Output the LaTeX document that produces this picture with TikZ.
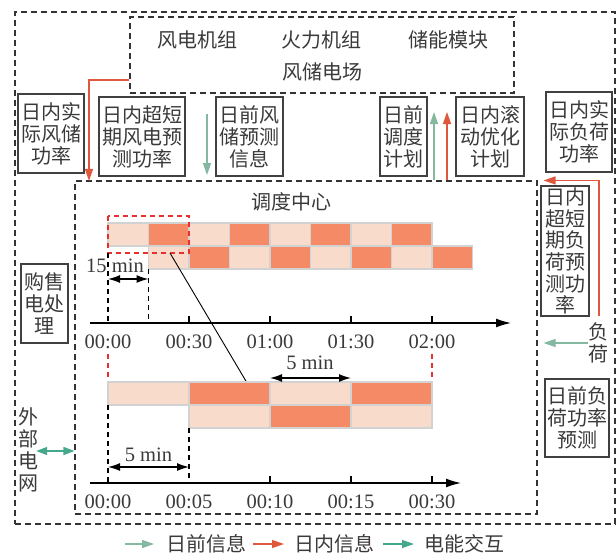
\documentclass[tikz,border=0pt]{standalone}
\usepackage{fontspec}
\setmainfont{Liberation Serif}
\newfontfamily\cjk{Noto Sans CJK SC}
\usetikzlibrary{arrows.meta}
\definecolor{txt}{HTML}{3A3A3A}
\definecolor{boxc}{HTML}{404040}
\definecolor{dashc}{HTML}{333333}
\definecolor{lightc}{HTML}{F8DBCB}
\definecolor{darkc}{HTML}{F58B66}
\definecolor{gridc}{HTML}{D2D2D2}
\definecolor{redc}{HTML}{E0583C}
\definecolor{grnc}{HTML}{85B8A0}
\definecolor{tealc}{HTML}{45A88C}
\definecolor{rdash}{HTML}{E8302E}
\tikzset{
  cn/.style={font=\cjk\fontsize{20}{22}\selectfont, text=txt, inner sep=0pt, align=center},
  num/.style={font=\fontsize{20.5}{22}\selectfont, text=txt, inner sep=0pt},
  box/.style={cn, draw=boxc, line width=1.3pt},
  dbox/.style={draw=dashc, dash pattern=on 6pt off 4pt, line width=1.1pt, inner sep=0pt},
  redarr/.style={draw=redc, line width=1.3pt, -{Triangle[length=12pt,width=8pt]}},
  grnarr/.style={draw=grnc, line width=1.3pt, -{Triangle[length=12pt,width=8pt]}},
  tealarr/.style={draw=tealc, line width=1.3pt, {Triangle[length=11pt,width=8pt]}-{Triangle[length=11pt,width=8pt]}},
  tealone/.style={draw=tealc, line width=1.3pt, -{Triangle[length=12pt,width=8pt]}},
  cell/.style={draw=gridc, line width=1.3pt},
  axis/.style={draw=black, line width=1.4pt, -{Latex[length=15pt,width=9pt]}},
  dim/.style={draw=black, line width=1.3pt, {Latex[length=12pt,width=8pt]}-{Latex[length=12pt,width=8pt]}},
  vdash/.style={draw=black, line width=1.1pt, dash pattern=on 5pt off 4pt},
  rdashed/.style={draw=rdash, line width=1.2pt, dash pattern=on 5pt off 4pt},
  tick/.style={draw=black, line width=1.2pt},
}
\begin{document}
\begin{tikzpicture}[x=1pt,y=-1pt]
\useasboundingbox (0,0) rectangle (616,554);
\fill[white] (0,0) rectangle (616,554);

% dashed frames
\node[dbox, minimum width=600, minimum height=512] (outer) at (315,268) {};
\node[dbox, minimum width=384, minimum height=76] (farm) at (322,55) {};
\node[dbox, minimum width=462, minimum height=333] (dc) at (306,347.5) {};

% wind farm texts
\node[cn] (wt) at (197,40) {风电机组};
\node[cn] (th) at (321,40) {火力机组};
\node[cn] (st) at (448,40) {储能模块};
\node[cn] (wf) at (322,72) {风储电场};
\node[cn] (dct) at (291,202) {调度中心};

% boxes
\node[box, minimum width=66, minimum height=79] (b1) at (51,133.5) {日内实\\际风储\\功率};
\node[box, minimum width=86, minimum height=79] (b2) at (142,136.5) {日内超短\\期风电预\\测功率};
\node[box, minimum width=67, minimum height=79] (b3) at (249.5,136.5) {日前风\\储预测\\信息};
\node[box, minimum width=47, minimum height=79] (b4) at (403.5,136.5) {日前\\调度\\计划};
\node[box, minimum width=68, minimum height=79] (b5) at (490,136.5) {日内滚\\动优化\\计划};
\node[box, minimum width=66, minimum height=80] (b6) at (579,132) {日内实\\际负荷\\功率};
\node[box, minimum width=48, minimum height=130, font=\cjk\fontsize{20}{21.6}\selectfont] (b7) at (565,251) {日内\\超短\\期负\\荷预\\测功\\率};
\node[box, minimum width=64, minimum height=78] (b8) at (577,418) {日前负\\荷功率\\预测};
\node[box, minimum width=47, minimum height=79] (b9) at (44.5,303.5) {购售\\电处\\理};
\node[cn, font=\cjk\fontsize{20}{22.5}\selectfont] (fh) at (598,343) {负\\荷};
\node[cn, font=\cjk\fontsize{20}{21.8}\selectfont] (wb) at (29,450) {外\\部\\电\\网};

% information arrows
\draw[redarr] (farm.west |- 0,80) -| ([yshift=-0.5pt]dc.north -| 89,0);
\coordinate (g1s) at (207,114);
\draw[grnarr] (g1s) -- (207,175);
\coordinate (g2e) at (434,112);
\coordinate (r2e) at (447,112);
\draw[grnarr] (dc.north -| 434,0) -- (g2e);
\draw[redarr] (dc.north -| 447,0) -- (r2e);
\coordinate (r3s) at (599,316);
\draw[redarr] (r3s) |- ([xshift=6pt]dc.north east);
\draw[grnarr] (fh.west) -- ([xshift=6pt]dc.east |- fh.west);
\draw[tealarr] ([xshift=-3pt]wb.east |- 0,451) -- (dc.west |- 0,451);

% chart 1 cells
\foreach \xa/\c in {108/lightc,148.5/darkc,189/lightc,229.5/darkc,270/lightc,310.5/darkc,351/lightc,391.5/darkc}
  \path[cell, fill=\c] (\xa,223) rectangle ++(40.5,23);
\foreach \xa/\c in {148.5/lightc,189/darkc,229.5/lightc,270/darkc,310.5/lightc,351/darkc,391.5/lightc,432/darkc}
  \path[cell, fill=\c] (\xa,246) rectangle ++(40.5,23);
\draw[rdashed] (108,216) rectangle (189,253);

% chart 1 axis
\coordinate (a1s) at (90,323);
\coordinate (a1e) at (511,323);
\draw[axis] (a1s) -- (a1e);
\foreach \x in {189,270,351,432} \draw[tick] (\x,316) -- (\x,323);
\draw[vdash] (108,253) -- (108,323);
\draw[vdash] (148.5,269) -- (148.5,323);
\draw[dim] (108,279) -- (148.5,279);
\node[num] (m15) at (115,266) {15 min};
\foreach \x/\t in {108/00:00,189/00:30,270/01:00,351/01:30,432/02:00}
  \node[num] at (\x,342) {\t};

% link line
\draw[black, line width=0.9pt] (170,253) -- (246.5,382);

% chart 2
\draw[rdashed] (108,354) -- (108,382);
\draw[rdashed] (432,354) -- (432,382);
\foreach \xa/\c in {108/lightc,189/darkc,270/lightc,351/darkc}
  \path[cell, fill=\c] (\xa,382) rectangle ++(81,23);
\foreach \xa/\c in {189/lightc,270/darkc,351/lightc}
  \path[cell, fill=\c] (\xa,405) rectangle ++(81,23);
\draw[dim] (270,378) -- (351,378);
\node[num] (m5a) at (310,363) {5 min};

\coordinate (a2s) at (90,483);
\coordinate (a2e) at (461,483);
\draw[axis] (a2s) -- (a2e);
\foreach \x in {270,351,432} \draw[tick] (\x,476) -- (\x,483);
\draw[vdash] (108,405) -- (108,483);
\draw[vdash] (189,428) -- (189,483);
\draw[dim] (108,467) -- (189,467);
\node[num] (m5b) at (148.5,455) {5 min};
\foreach \x/\t in {108/00:00,189/00:05,270/00:10,351/00:15,432/00:30}
  \node[num] at (\x,502) {\t};

% legend
\coordinate (l1s) at (125,544); \coordinate (l1e) at (154,544);
\coordinate (l2s) at (253,544); \coordinate (l2e) at (284,544);
\coordinate (l3s) at (383,544); \coordinate (l3e) at (414,544);
\draw[grnarr] (l1s) -- (l1e);
\node[cn] (lg1) at (206,544) {日前信息};
\draw[redarr] (l2s) -- (l2e);
\node[cn] (lg2) at (334,544) {日内信息};
\draw[tealone] (l3s) -- (l3e);
\node[cn] (lg3) at (464,544) {电能交互};
\end{tikzpicture}
\end{document}
